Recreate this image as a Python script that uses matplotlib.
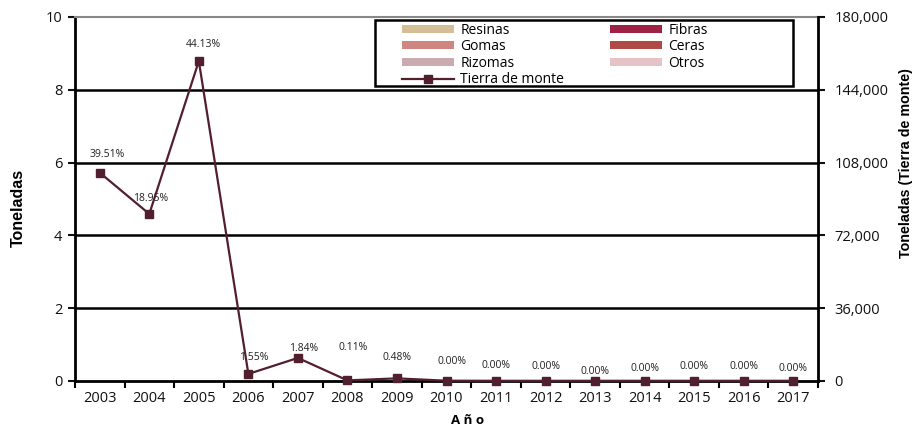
import matplotlib
matplotlib.use("Agg")
import matplotlib.pyplot as plt
from matplotlib.patches import Patch, Rectangle
from matplotlib.lines import Line2D
import numpy as np

years = ["2003", "2004", "2005", "2006", "2007", "2008", "2009", "2010",
         "2011", "2012", "2013", "2014", "2015", "2016", "2017"]
tierra_monte = [103000, 82600, 158200, 3500, 11400, 300, 1300, 150,
                100, 100, 100, 100, 100, 100, 100]
pct_labels = ["39.51%", "18.95%", "44.13%", "1.55%", "1.84%", "0.11%", "0.48%",
              "0.00%", "0.00%", "0.00%", "0.00%", "0.00%", "0.00%", "0.00%", "0.00%"]
# bar series (tonnes, left axis) - not visible in the chart
resinas = [0] * 15
fibras = [0] * 15
gomas = [0] * 15
ceras = [0] * 15
rizomas = [0] * 15
otros = [0] * 15

bar_names = ["Resinas", "Gomas", "Rizomas", "Fibras", "Ceras", "Otros"]
bar_series = [resinas, gomas, rizomas, fibras, ceras, otros]
bar_colors = ["#D4BE96", "#CF8580", "#C9ABB0", "#9E2246", "#B04A45", "#E6C3C6"]
line_color = "#521F2E"

# label offsets in points (x, y)
label_dx = [5, 1, 3, 4, 4, 4, 0, 4, 0, 0, 0, 0, 0, 0, 0]
label_dy = [13, 11, 12, 12, 7, 24, 15, 14, 11, 10, 7, 9, 10, 10, 9]

font = "Open Sans"
plt.rcParams['font.family'] = [font, 'DejaVu Sans']

fig = plt.figure(figsize=(9.17, 4.26), dpi=100)
ax = fig.add_axes([75/917, 1-381/426, (818-75)/917, (381-17)/426])
ax2 = ax.twinx()

x = np.arange(len(years))
w = 0.12
for i, (name, s, c) in enumerate(zip(bar_names, bar_series, bar_colors)):
    ax.bar(x + (i - 2.5) * w, s, width=w, color=c, label=name)

ax.set_xlim(-0.5, len(years) - 0.5)
ax.set_ylim(0, 10)
ax.set_yticks([0, 2, 4, 6, 8, 10])
ax.set_xticks(x)
ax.set_xticklabels(years)
ax.set_xticks(np.arange(len(years) + 1) - 0.5, minor=True)
ax.tick_params(axis='x', which='major', length=0, labelsize=10.5, pad=7, colors='#111111')
ax.tick_params(axis='x', which='minor', length=5, width=1.5, direction='out')
ax.tick_params(axis='y', length=5, width=1.5, labelsize=10.5, pad=4, colors='#111111')
for yv in [2, 4, 6, 8]:
    ax.axhline(yv, color='black', lw=1.8, zorder=1)
ax.spines['top'].set_color('#888888')
ax.spines['top'].set_linewidth(1.5)
for sp in ['left', 'bottom']:
    ax.spines[sp].set_linewidth(2)
ax2.spines['right'].set_linewidth(2)
ax2.spines['top'].set_visible(False)
ax2.spines['left'].set_visible(False)
ax2.spines['bottom'].set_visible(False)

ax2.plot(x, tierra_monte, color=line_color, lw=1.6, marker='s', markersize=6,
         label="Tierra de monte", zorder=5, clip_on=False)
ax2.set_ylim(0, 180000)
ax2.set_yticks([0, 36000, 72000, 108000, 144000, 180000])
ax2.set_yticklabels([f"{v:,}" for v in [0, 36000, 72000, 108000, 144000, 180000]])
ax2.tick_params(axis='y', length=5, width=1.5, labelsize=10.5, pad=7, colors='#111111')

for xi, v, lab, dx, dy in zip(x, tierra_monte, pct_labels, label_dx, label_dy):
    ax2.annotate(lab, (xi, v), xytext=(dx, dy), textcoords='offset points',
                 ha='center', va='center', fontsize=7.5, color='#222222')

ax.set_ylabel("Toneladas", fontsize=11.5, fontweight='bold',
              family=['Liberation Sans', 'DejaVu Sans'])
ax.yaxis.set_label_coords(-0.066, 0.475)
ax2.set_ylabel("Toneladas (Tierra de monte)", fontsize=10.3, fontweight='bold',
               rotation=90, family=['Liberation Sans', 'DejaVu Sans'])
ax2.yaxis.set_label_coords(1.109, 0.60)
ax.set_xlabel("A ñ o", fontsize=9.5, fontweight='bold')
ax.xaxis.set_label_coords(0.528, -0.09)

handles = [Patch(facecolor=c, edgecolor='none') for c in bar_colors[:3]]
handles.append(Line2D([], [], color=line_color, lw=1.6, marker='s', markersize=6))
handles += [Patch(facecolor=c, edgecolor='none') for c in bar_colors[3:]]
labels = bar_names[:3] + ["Tierra de monte"] + bar_names[3:]
leg = ax2.legend(handles, labels, ncol=2, loc='upper left',
                 bbox_to_anchor=(0.440, 0.984),
                 frameon=False, fontsize=10, handlelength=3.75, handleheight=0.5,
                 labelspacing=0.1, borderpad=0, handletextpad=0.45,
                 columnspacing=3.3, borderaxespad=0)
leg.set_zorder(10)
frame = Rectangle((0.404, 0.8104), 0.562, 0.1814, transform=ax2.transAxes,
                  facecolor='white', edgecolor='black', lw=1.8, zorder=9)
ax2.add_patch(frame)

fig.savefig("out.png", dpi=100)
